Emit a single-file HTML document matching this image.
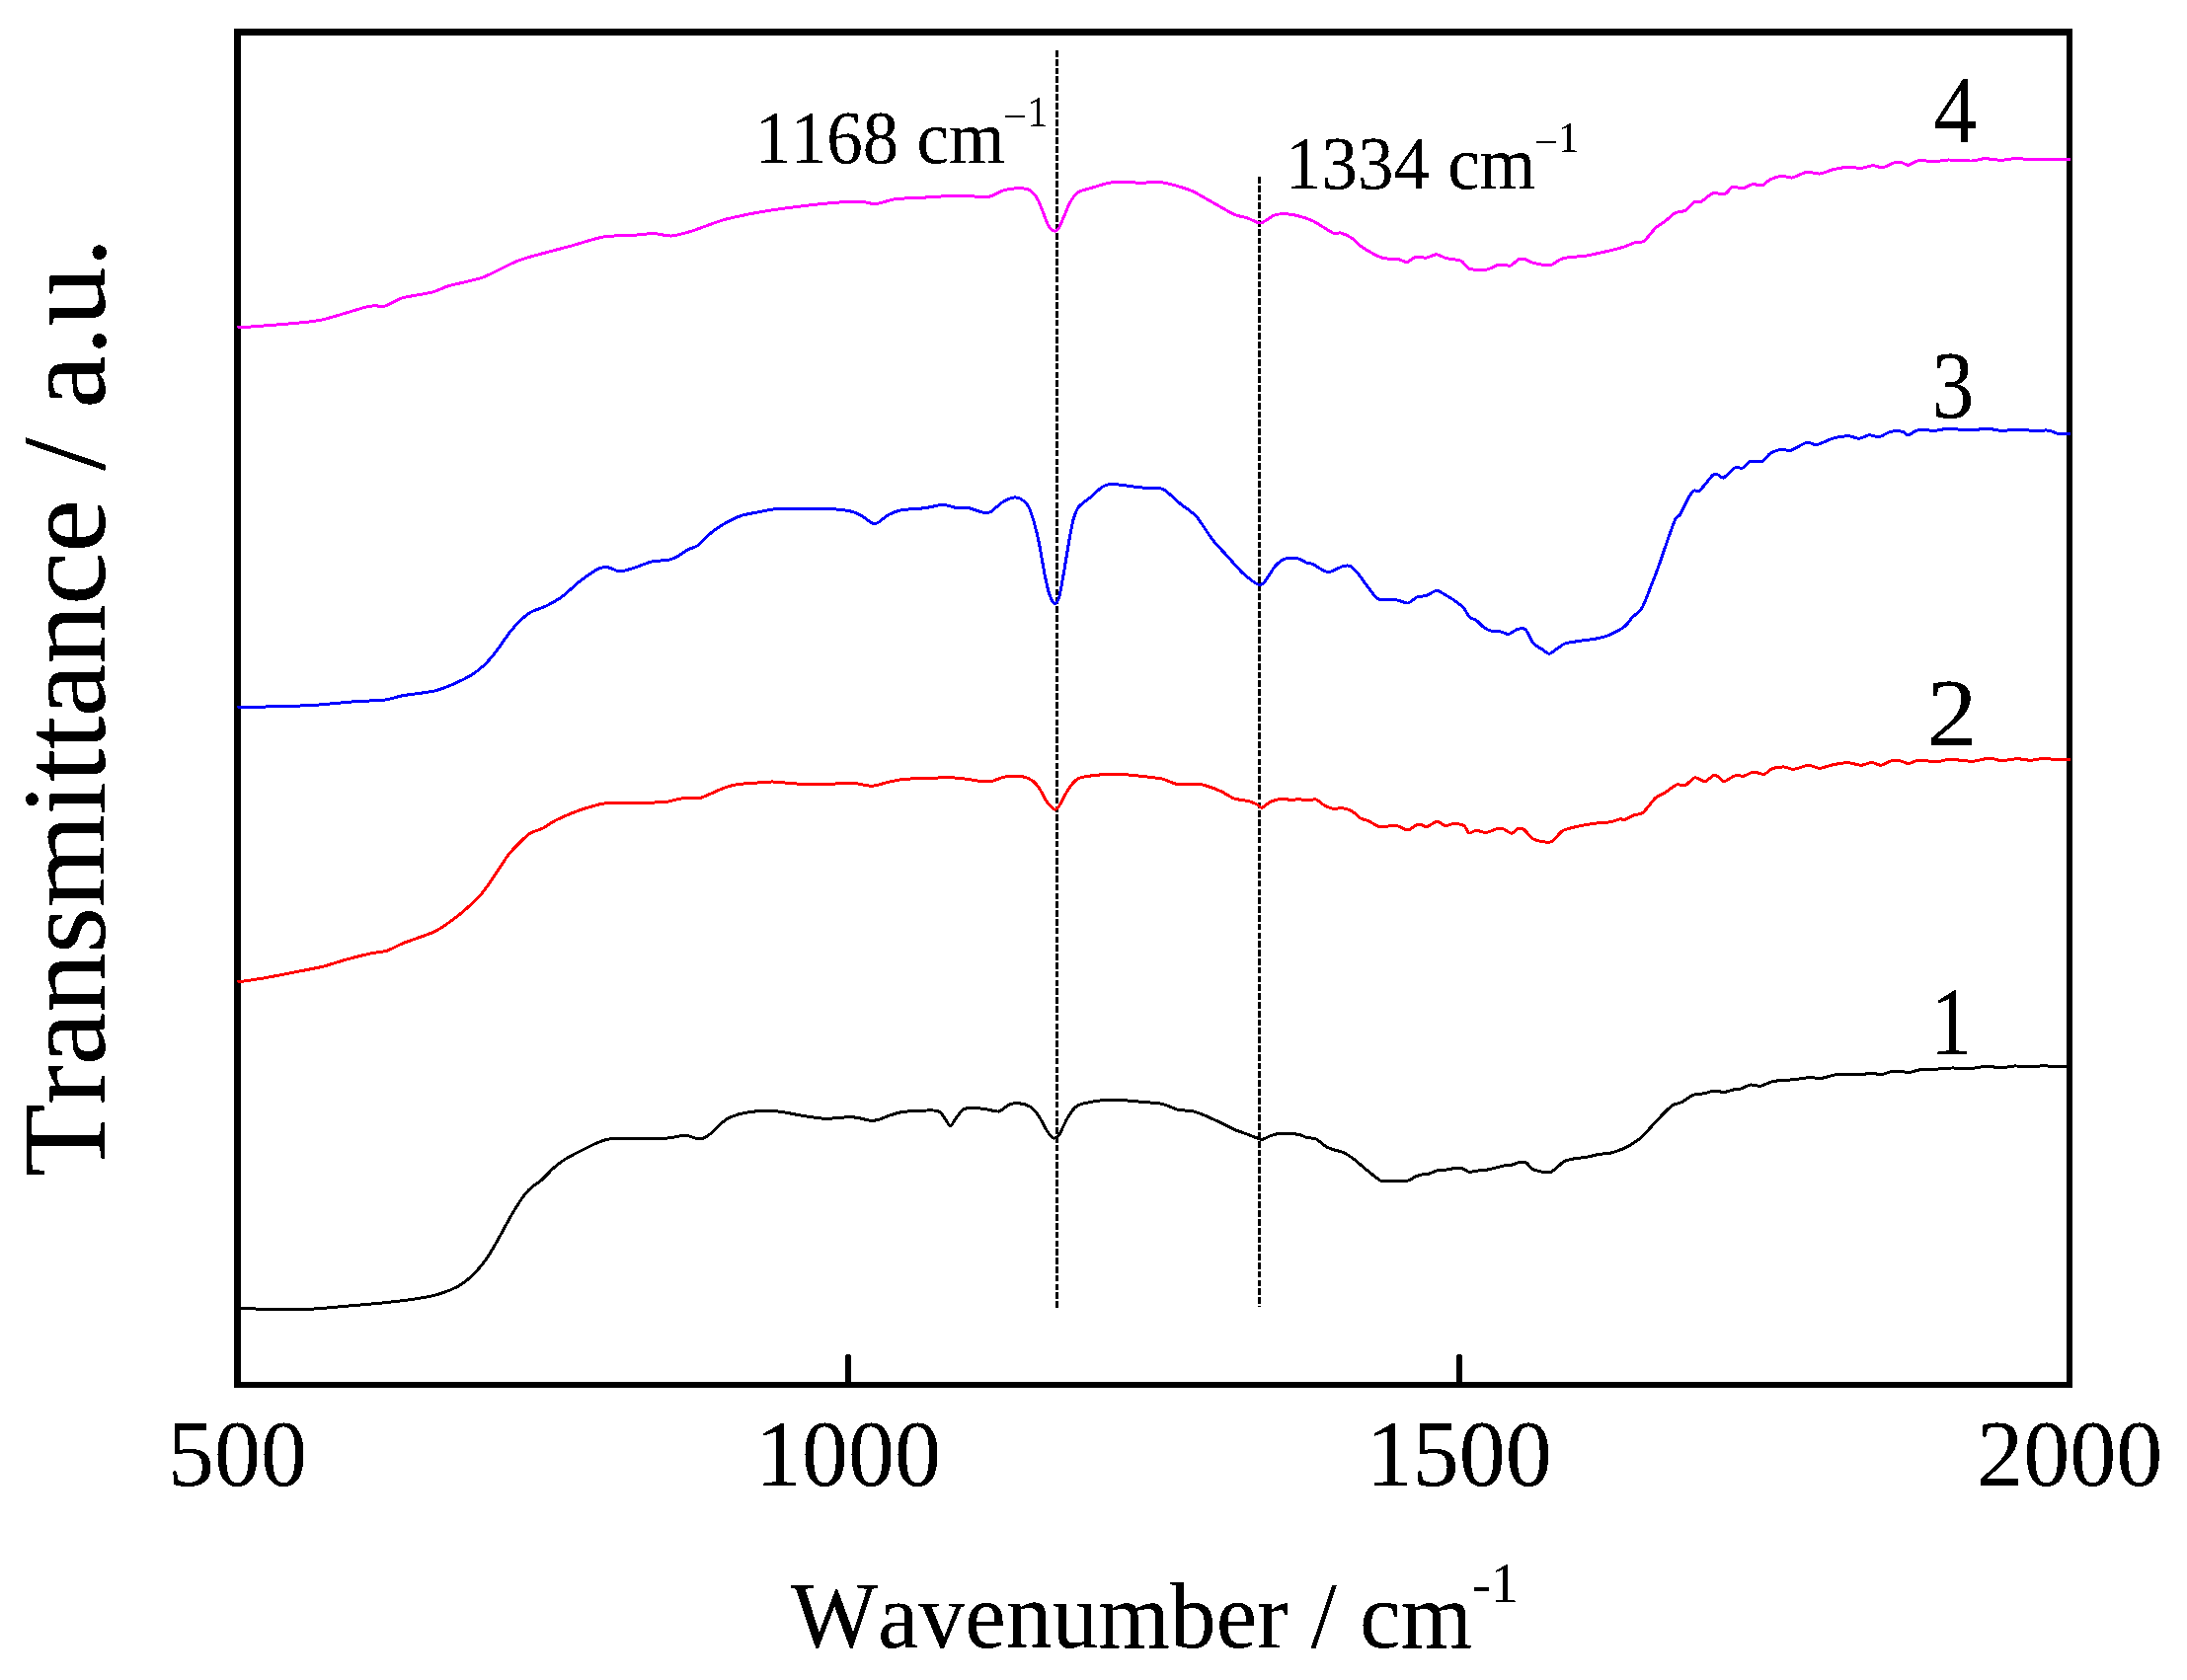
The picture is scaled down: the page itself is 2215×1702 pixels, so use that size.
<!DOCTYPE html>
<html><head><meta charset="utf-8"><title>FTIR spectra</title>
<style>
html,body{margin:0;padding:0;background:#fff;}
svg{display:block;}
text{font-family:"Liberation Serif","Times New Roman",serif;fill:#000;font-kerning:none;}
</style></head>
<body>
<svg width="2215" height="1702" viewBox="0 0 2215 1702" shape-rendering="crispEdges">
<defs><filter id="bw" x="-5%" y="-5%" width="110%" height="110%" color-interpolation-filters="sRGB"><feComponentTransfer><feFuncA type="discrete" tableValues="0 0 1 1 1"/></feComponentTransfer></filter></defs>
<rect x="0" y="0" width="2215" height="1702" fill="#fff"/>
<g fill="#000" shape-rendering="crispEdges">
<rect x="237" y="29" width="1862" height="7"/>
<rect x="237" y="1400" width="1862" height="6"/>
<rect x="237" y="29" width="7" height="1377"/>
<rect x="2093" y="29" width="6" height="1377"/>
</g>
<g stroke="#000" stroke-width="6" stroke-linecap="round">
<line x1="859" y1="1403" x2="859" y2="1375"/>
<line x1="1478" y1="1403" x2="1478" y2="1375"/>
</g>
<g stroke="#000" stroke-width="3" stroke-dasharray="6.7 2.1">
<line x1="1070.5" y1="51" x2="1070.5" y2="1325"/>
<line x1="1275.6" y1="179" x2="1275.6" y2="1323.5"/>
</g>
<g fill="none" stroke-width="3" stroke-linejoin="round" stroke-linecap="butt">
<path stroke="#000000" d="M240.5 1325.0C243.8 1325.2 257.6 1326.1 266.7 1326.3C275.8 1326.5 302.6 1326.7 313.0 1326.3C323.4 1325.9 340.8 1324.1 350.0 1323.3C359.2 1322.5 377.9 1320.9 386.7 1320.0C395.4 1319.1 413.3 1317.0 420.0 1316.0C426.7 1315.0 435.4 1313.5 440.0 1312.3C444.6 1311.1 452.9 1308.3 456.7 1306.7C460.4 1305.1 466.7 1301.7 470.0 1299.3C473.3 1296.9 480.1 1290.3 483.0 1287.3C485.9 1284.3 490.5 1278.6 493.0 1275.0C495.5 1271.4 500.5 1262.7 503.0 1258.3C505.5 1253.9 510.5 1244.5 513.0 1240.0C515.5 1235.5 520.5 1226.7 523.0 1222.7C525.5 1218.7 530.9 1210.9 533.0 1208.3C535.1 1205.7 538.1 1203.2 540.0 1201.7C541.9 1200.2 545.3 1198.4 548.0 1196.0C550.7 1193.6 558.6 1185.0 561.7 1182.3C564.8 1179.5 569.5 1176.2 573.0 1174.0C576.5 1171.8 586.0 1167.0 590.0 1165.0C594.0 1163.0 601.7 1159.1 605.0 1157.7C608.3 1156.3 613.6 1154.5 616.7 1154.0C619.8 1153.5 623.0 1153.4 630.0 1153.3C637.0 1153.2 665.5 1153.6 673.0 1153.3C680.5 1153.0 686.9 1151.0 690.0 1150.7C693.1 1150.4 696.1 1150.7 698.0 1151.0C699.9 1151.3 703.3 1153.0 705.0 1153.3C706.7 1153.6 709.8 1153.9 711.7 1153.3C713.6 1152.7 717.7 1150.2 720.0 1148.3C722.3 1146.4 727.5 1140.4 730.0 1138.3C732.5 1136.2 736.7 1133.1 740.0 1131.7C743.3 1130.3 752.0 1127.8 756.7 1127.0C761.5 1126.2 773.5 1125.3 778.0 1125.3C782.5 1125.3 788.2 1126.0 793.0 1126.7C797.8 1127.4 811.2 1130.2 816.7 1131.0C822.2 1131.8 831.3 1133.2 836.7 1133.3C842.1 1133.4 855.8 1131.8 860.0 1131.7C864.2 1131.6 867.3 1132.2 870.0 1132.7C872.7 1133.2 879.2 1135.1 881.7 1135.3C884.2 1135.5 887.7 1134.9 890.0 1134.3C892.3 1133.7 897.1 1131.4 900.0 1130.4C902.9 1129.5 909.2 1127.3 913.0 1126.7C916.8 1126.1 925.5 1125.5 930.0 1125.3C934.5 1125.1 945.9 1124.7 949.0 1125.3C952.1 1125.9 953.3 1128.1 955.0 1130.0C956.7 1131.9 960.7 1140.3 962.3 1140.7C963.9 1141.1 966.4 1135.3 968.0 1133.3C969.6 1131.2 973.3 1125.6 975.0 1124.3C976.7 1123.0 979.0 1122.8 981.7 1122.7C984.4 1122.6 993.0 1122.9 996.7 1123.3C1000.5 1123.7 1008.6 1126.5 1011.7 1126.0C1014.8 1125.5 1019.2 1120.3 1021.7 1119.3C1024.2 1118.3 1029.0 1117.5 1031.7 1117.7C1034.4 1117.9 1040.5 1119.5 1043.0 1121.0C1045.5 1122.5 1049.6 1127.0 1051.7 1130.0C1053.8 1133.0 1058.4 1142.4 1060.0 1145.0C1061.6 1147.6 1063.4 1150.0 1064.3 1151.0C1065.2 1152.0 1066.7 1153.1 1067.4 1153.2C1068.1 1153.3 1069.5 1152.5 1070.2 1152.0C1070.9 1151.5 1071.6 1151.8 1073.0 1149.3C1074.4 1146.8 1079.6 1135.2 1081.7 1131.7C1083.8 1128.2 1087.7 1122.8 1090.0 1121.0C1092.3 1119.2 1096.2 1118.1 1100.0 1117.3C1103.8 1116.5 1115.9 1114.7 1120.0 1114.3C1124.1 1113.9 1128.9 1114.1 1133.0 1114.3C1137.1 1114.5 1147.5 1115.5 1153.0 1116.0C1158.5 1116.5 1171.7 1117.3 1176.7 1118.3C1181.7 1119.3 1189.1 1123.4 1193.0 1124.3C1196.9 1125.2 1204.4 1124.9 1208.0 1125.7C1211.6 1126.5 1218.1 1129.2 1221.7 1130.7C1225.3 1132.2 1233.2 1136.0 1236.7 1137.7C1240.2 1139.4 1246.7 1142.9 1250.0 1144.3C1253.3 1145.7 1259.5 1147.8 1263.0 1149.0C1266.5 1150.2 1275.0 1154.1 1278.0 1154.3C1281.0 1154.5 1284.4 1151.5 1286.7 1150.7C1289.0 1150.0 1293.2 1148.5 1296.7 1148.3C1300.2 1148.1 1311.7 1148.8 1315.0 1149.3C1318.3 1149.8 1320.8 1151.7 1323.0 1152.3C1325.2 1152.9 1330.5 1152.8 1333.0 1154.0C1335.5 1155.2 1340.7 1160.3 1343.0 1161.7C1345.3 1163.1 1349.6 1164.3 1351.7 1165.0C1353.8 1165.7 1357.7 1166.3 1360.0 1167.3C1362.3 1168.3 1367.5 1171.5 1370.0 1173.3C1372.5 1175.1 1377.5 1179.6 1380.0 1181.7C1382.5 1183.8 1387.8 1188.2 1390.0 1190.0C1392.2 1191.8 1396.4 1195.1 1398.0 1196.0C1399.6 1196.9 1399.6 1197.0 1403.0 1197.0C1406.4 1197.0 1421.2 1196.9 1425.0 1196.3C1428.8 1195.7 1431.1 1193.1 1433.0 1192.3C1434.9 1191.5 1438.3 1190.4 1440.0 1190.0C1441.7 1189.6 1444.8 1189.8 1446.7 1189.3C1448.6 1188.8 1453.0 1186.5 1455.0 1186.0C1457.0 1185.5 1460.5 1185.6 1463.0 1185.3C1465.5 1185.0 1472.7 1183.5 1475.0 1183.3C1477.3 1183.1 1480.1 1183.5 1481.7 1184.0C1483.3 1184.5 1486.1 1187.0 1488.0 1187.3C1489.9 1187.5 1494.4 1186.3 1496.7 1186.0C1499.0 1185.7 1503.4 1185.6 1506.7 1185.0C1510.0 1184.4 1520.1 1181.6 1523.0 1181.0C1525.9 1180.4 1528.1 1180.9 1530.0 1180.5C1531.9 1180.1 1536.1 1178.1 1538.0 1177.8C1539.9 1177.5 1543.6 1176.9 1545.5 1177.8C1547.4 1178.7 1550.2 1183.5 1553.0 1184.8C1555.8 1186.1 1565.2 1188.0 1568.0 1188.0C1570.8 1188.0 1573.1 1185.9 1575.0 1184.6C1576.9 1183.3 1580.9 1178.6 1583.0 1177.3C1585.1 1176.0 1588.7 1174.9 1591.7 1174.3C1594.7 1173.7 1603.2 1172.9 1606.7 1172.3C1610.2 1171.7 1616.9 1169.8 1620.0 1169.3C1623.1 1168.8 1628.6 1168.8 1631.7 1168.0C1634.8 1167.2 1642.1 1164.6 1645.0 1163.3C1647.9 1162.0 1652.8 1159.2 1655.0 1157.7C1657.2 1156.2 1660.9 1153.6 1663.0 1151.7C1665.1 1149.8 1669.6 1144.6 1671.7 1142.3C1673.8 1140.0 1678.0 1135.5 1680.0 1133.3C1682.0 1131.1 1686.1 1126.8 1688.0 1125.0C1689.9 1123.2 1693.1 1120.3 1695.0 1119.3C1696.9 1118.3 1700.5 1118.0 1703.0 1116.7C1705.5 1115.5 1712.0 1110.4 1715.0 1109.3C1718.0 1108.2 1724.2 1108.2 1726.7 1107.7C1729.2 1107.2 1732.5 1105.5 1735.0 1105.3C1737.5 1105.1 1744.0 1106.5 1746.7 1106.3C1749.4 1106.1 1754.7 1104.1 1756.7 1103.7C1758.7 1103.3 1761.0 1103.6 1763.0 1103.0C1765.0 1102.4 1770.5 1099.3 1773.0 1099.0C1775.5 1098.7 1780.5 1100.6 1783.0 1100.3C1785.5 1100.0 1790.7 1097.0 1793.0 1096.3C1795.3 1095.6 1798.7 1095.0 1801.7 1094.7C1804.7 1094.4 1813.0 1094.1 1816.7 1093.7C1820.5 1093.3 1828.2 1091.9 1831.7 1091.7C1835.2 1091.5 1841.7 1092.6 1845.0 1092.3C1848.3 1092.0 1854.7 1089.5 1858.0 1089.0C1861.3 1088.5 1868.6 1088.0 1871.7 1088.0C1874.8 1088.0 1879.9 1088.8 1883.0 1088.7C1886.1 1088.6 1894.0 1087.3 1896.7 1087.3C1899.5 1087.3 1902.5 1089.0 1905.0 1088.7C1907.5 1088.5 1914.0 1085.7 1916.7 1085.3C1919.4 1084.9 1924.7 1085.1 1926.7 1085.3C1928.7 1085.5 1930.4 1086.9 1932.7 1086.7C1935.0 1086.5 1941.2 1084.2 1945.0 1083.7C1948.8 1083.2 1959.0 1083.2 1963.0 1083.0C1967.0 1082.8 1972.3 1082.1 1976.7 1082.0C1981.1 1081.9 1993.5 1082.5 1998.0 1082.3C2002.5 1082.0 2009.5 1080.0 2013.0 1080.0C2016.5 1080.0 2022.6 1082.0 2026.0 1082.0C2029.4 1082.0 2036.2 1080.2 2040.0 1080.0C2043.8 1079.8 2052.9 1080.7 2056.7 1080.7C2060.4 1080.7 2067.1 1079.7 2070.0 1079.7C2072.9 1079.7 2076.6 1080.5 2080.0 1080.6C2083.4 1080.7 2094.9 1080.5 2097.0 1080.5"/>
<path stroke="#ff0000" d="M240.5 995.0C243.8 994.5 259.7 992.2 266.7 991.0C273.7 989.8 289.2 986.8 296.7 985.3C304.2 983.8 320.0 980.9 326.7 979.3C333.4 977.7 343.8 974.0 350.0 972.3C356.2 970.6 371.5 966.8 376.7 965.7C381.9 964.6 387.8 964.5 391.7 963.3C395.6 962.0 402.8 957.8 408.0 955.7C413.2 953.6 428.6 948.4 433.0 946.7C437.4 945.0 439.6 944.3 443.0 942.3C446.4 940.3 456.2 933.5 460.0 930.7C463.8 927.9 469.7 923.0 473.0 920.0C476.3 917.0 483.7 910.0 486.7 906.7C489.7 903.4 494.2 896.8 496.7 893.3C499.2 889.8 504.4 881.8 506.7 878.3C509.0 874.8 512.7 868.6 515.0 865.7C517.3 862.8 522.3 857.7 525.0 855.0C527.7 852.3 533.6 846.3 536.7 844.3C539.8 842.3 546.7 840.7 550.0 839.0C553.3 837.3 558.9 833.1 563.0 831.0C567.1 828.9 578.0 824.2 583.0 822.3C588.0 820.4 599.0 817.1 603.0 816.0C607.0 814.9 608.3 814.0 615.0 813.7C621.7 813.4 649.0 813.5 656.7 813.3C664.4 813.1 672.5 812.5 676.7 812.0C680.9 811.5 686.1 809.4 690.0 809.0C693.9 808.6 704.2 809.3 708.0 808.7C711.8 808.1 716.9 805.3 720.0 804.0C723.1 802.7 729.7 799.5 733.0 798.3C736.3 797.1 742.5 795.4 746.7 794.7C750.9 794.0 762.2 793.3 766.7 793.0C771.2 792.7 778.5 791.9 783.0 792.0C787.5 792.1 797.5 793.3 803.0 793.7C808.5 794.1 819.2 795.0 826.7 795.0C834.2 795.0 856.0 793.1 863.0 793.3C870.0 793.5 878.4 796.4 883.0 796.3C887.6 796.2 895.8 793.1 900.0 792.2C904.2 791.3 910.9 789.8 916.7 789.3C922.5 788.8 941.7 788.5 946.7 788.3C951.7 788.0 953.0 787.2 956.7 787.3C960.5 787.4 971.9 788.5 976.7 789.0C981.5 789.5 991.5 791.4 995.0 791.7C998.5 792.0 1002.5 791.8 1005.0 791.3C1007.5 790.8 1012.3 788.4 1015.0 787.7C1017.7 787.0 1023.8 786.0 1026.7 786.0C1029.6 786.0 1035.5 786.6 1038.0 787.3C1040.5 788.0 1044.8 790.2 1046.7 791.7C1048.6 793.2 1051.3 796.8 1053.0 799.3C1054.7 801.8 1058.1 809.1 1060.0 811.7C1061.9 814.3 1066.4 819.5 1068.0 820.0C1069.6 820.5 1071.3 818.5 1073.0 816.0C1074.7 813.5 1079.6 803.2 1081.7 800.0C1083.8 796.8 1088.1 791.6 1090.0 790.0C1091.9 788.4 1093.4 788.0 1096.7 787.3C1100.0 786.6 1112.2 785.1 1116.7 784.7C1121.2 784.3 1128.5 784.1 1133.0 784.3C1137.5 784.5 1147.5 785.4 1153.0 786.0C1158.5 786.6 1171.9 788.0 1176.7 789.0C1181.5 790.0 1187.2 793.6 1191.7 794.3C1196.2 795.0 1209.2 794.1 1213.0 794.3C1216.8 794.5 1218.7 795.1 1221.7 796.0C1224.7 796.9 1233.2 800.1 1236.7 801.7C1240.2 803.3 1246.5 807.8 1250.0 809.0C1253.5 810.2 1262.1 811.0 1265.0 811.7C1267.9 812.5 1271.4 814.2 1273.0 815.0C1274.6 815.8 1276.3 818.6 1278.0 818.3C1279.7 818.0 1284.0 813.5 1286.7 812.3C1289.5 811.1 1297.5 809.2 1300.0 809.0C1302.5 808.8 1304.8 810.6 1306.7 810.7C1308.6 810.8 1313.0 809.7 1315.0 809.7C1317.0 809.7 1320.8 810.7 1323.0 810.7C1325.2 810.7 1330.9 809.5 1333.0 810.0C1335.1 810.5 1337.9 813.8 1340.0 815.0C1342.1 816.2 1347.5 818.8 1350.0 819.3C1352.5 819.8 1357.5 818.3 1360.0 818.7C1362.5 819.1 1367.8 821.0 1370.0 822.3C1372.2 823.6 1375.9 827.8 1378.0 829.0C1380.1 830.2 1384.4 831.0 1386.7 832.0C1389.0 833.0 1393.2 836.7 1396.7 837.3C1400.2 837.9 1411.4 836.2 1415.0 836.7C1418.6 837.2 1423.2 841.1 1425.7 841.0C1428.2 840.9 1433.2 836.4 1435.0 835.7C1436.8 835.0 1438.8 835.5 1440.0 835.7C1441.2 836.0 1443.0 838.1 1445.0 837.7C1447.0 837.3 1453.3 832.4 1455.7 832.3C1458.1 832.2 1461.8 836.5 1464.0 836.7C1466.2 837.0 1470.6 834.3 1473.0 834.3C1475.4 834.3 1481.2 835.5 1483.0 836.7C1484.8 837.9 1486.2 843.4 1487.7 844.0C1489.2 844.6 1492.8 841.4 1495.0 841.3C1497.2 841.2 1502.3 843.7 1505.0 843.5C1507.7 843.3 1514.5 839.9 1516.7 839.5C1519.0 839.1 1521.2 839.4 1523.0 840.0C1524.8 840.6 1529.3 844.3 1531.0 844.3C1532.7 844.3 1535.2 840.3 1536.7 839.8C1538.2 839.3 1541.0 838.7 1543.0 840.0C1545.0 841.3 1549.9 848.3 1553.0 850.0C1556.1 851.7 1565.5 853.1 1568.0 853.3C1570.5 853.5 1571.1 853.2 1573.0 851.7C1574.9 850.2 1579.6 843.4 1583.0 841.5C1586.4 839.6 1595.8 837.7 1600.0 836.8C1604.2 835.9 1612.7 834.5 1616.7 834.0C1620.7 833.5 1628.8 833.2 1631.7 832.7C1634.6 832.2 1638.1 830.3 1640.0 830.0C1641.9 829.7 1644.8 830.5 1646.7 830.0C1648.6 829.5 1652.8 826.5 1655.0 825.7C1657.2 824.9 1661.3 825.5 1664.0 823.3C1666.7 821.1 1673.9 810.9 1676.7 808.3C1679.5 805.7 1684.0 804.4 1686.7 802.7C1689.4 801.0 1695.5 795.9 1698.0 795.0C1700.5 794.1 1704.4 796.6 1706.7 795.7C1709.0 794.8 1714.2 788.2 1716.7 787.7C1719.2 787.2 1724.2 792.0 1726.7 791.7C1729.2 791.4 1734.6 785.0 1737.0 785.0C1739.4 785.0 1743.5 791.6 1746.0 791.7C1748.5 791.8 1754.1 786.7 1756.7 786.0C1759.3 785.3 1764.3 786.5 1766.7 786.0C1769.1 785.5 1773.5 782.2 1776.0 782.0C1778.5 781.8 1784.3 784.7 1786.7 784.3C1789.1 783.9 1792.5 779.6 1795.0 778.7C1797.5 777.8 1804.0 776.9 1806.7 777.0C1809.4 777.1 1813.6 779.5 1816.7 779.3C1819.8 779.1 1828.4 775.4 1831.7 775.3C1835.0 775.2 1839.9 778.4 1843.0 778.3C1846.1 778.2 1853.1 775.4 1856.7 774.7C1860.3 774.0 1868.2 772.6 1871.7 772.7C1875.2 772.8 1882.0 775.3 1885.0 775.3C1888.0 775.2 1893.2 772.3 1895.7 772.3C1898.2 772.3 1902.6 775.5 1905.0 775.3C1907.4 775.1 1912.5 771.5 1915.0 771.0C1917.5 770.5 1922.8 770.7 1925.0 771.0C1927.2 771.3 1930.8 773.8 1933.0 773.7C1935.2 773.6 1939.4 770.5 1943.0 770.3C1946.6 770.0 1957.7 771.8 1961.7 771.7C1965.7 771.6 1970.5 769.3 1975.0 769.3C1979.5 769.2 1993.0 771.5 1998.0 771.3C2003.0 771.1 2011.4 768.1 2015.0 768.0C2018.6 767.9 2023.2 770.6 2026.7 770.7C2030.2 770.8 2039.2 768.8 2043.0 768.7C2046.8 768.7 2053.3 770.3 2056.7 770.3C2060.1 770.2 2066.8 768.4 2070.0 768.3C2073.2 768.2 2078.6 769.5 2082.0 769.6C2085.4 769.8 2095.1 769.5 2097.0 769.5"/>
<path stroke="#0000ff" d="M240.5 716.7C247.5 716.5 286.4 715.6 296.7 715.3C307.0 715.0 315.1 714.6 323.0 714.0C330.9 713.4 351.6 711.3 360.0 710.7C368.4 710.1 384.0 709.8 390.0 709.0C396.0 708.2 401.8 705.8 408.0 704.7C414.2 703.6 433.5 701.5 440.0 700.0C446.5 698.5 455.4 694.7 460.0 692.7C464.6 690.7 472.9 686.6 476.7 684.3C480.4 682.0 486.7 677.4 490.0 674.3C493.3 671.2 499.7 663.6 503.0 659.3C506.3 655.0 513.6 644.0 516.7 640.0C519.8 636.0 525.3 630.2 528.0 627.7C530.7 625.2 534.9 621.7 538.0 620.0C541.1 618.3 549.0 616.0 553.0 614.0C557.0 612.0 565.8 607.1 570.0 604.0C574.2 600.9 582.3 592.7 586.7 589.3C591.1 585.9 601.9 578.5 605.0 576.7C608.1 574.9 610.1 574.9 611.7 574.7C613.3 574.5 616.0 574.8 618.0 575.3C620.0 575.8 624.9 579.0 628.0 579.0C631.1 579.0 639.0 576.2 643.0 575.0C647.0 573.8 655.8 570.0 660.0 569.0C664.2 568.0 673.6 567.9 676.7 567.3C679.8 566.7 682.5 565.6 685.0 564.3C687.5 563.0 694.0 558.2 696.7 556.7C699.4 555.2 703.8 554.8 706.7 552.7C709.6 550.6 716.7 542.7 720.0 540.0C723.3 537.3 729.2 533.2 733.0 531.0C736.8 528.8 745.8 524.2 750.0 522.7C754.2 521.2 762.1 519.9 766.7 519.0C771.3 518.1 782.5 515.9 786.7 515.5C790.9 515.1 792.5 515.4 800.0 515.5C807.5 515.6 838.8 515.6 846.7 516.0C854.6 516.4 859.7 517.5 863.0 518.3C866.3 519.1 870.4 521.2 873.0 522.7C875.6 524.2 881.9 529.7 884.0 530.5C886.1 531.3 888.0 530.1 890.0 529.0C892.0 527.9 897.1 523.0 900.0 521.5C902.9 520.0 908.4 517.6 913.0 516.7C917.6 515.9 931.5 515.4 936.7 514.7C942.0 514.0 951.1 511.4 955.0 511.4C958.9 511.3 964.9 513.9 968.0 514.3C971.1 514.7 976.6 513.7 980.0 514.3C983.4 514.9 992.1 518.5 995.0 519.0C997.9 519.5 1000.5 520.0 1003.0 518.7C1005.5 517.5 1012.2 510.8 1015.0 509.0C1017.8 507.2 1022.8 504.8 1025.0 504.3C1027.2 503.8 1030.9 503.9 1033.0 505.0C1035.1 506.1 1039.8 510.0 1041.7 513.3C1043.6 516.6 1046.6 526.7 1048.0 531.7C1049.4 536.7 1051.8 547.0 1053.0 553.3C1054.2 559.5 1056.8 575.7 1058.0 581.7C1059.2 587.8 1061.5 598.0 1062.7 601.7C1064.0 605.5 1066.8 611.3 1068.0 611.7C1069.2 612.1 1071.5 609.4 1072.7 605.0C1074.0 600.6 1076.8 583.8 1078.0 576.7C1079.2 569.6 1081.6 554.5 1082.7 548.3C1083.8 542.0 1085.8 531.1 1087.0 526.7C1088.2 522.3 1090.7 516.0 1092.7 513.3C1094.7 510.6 1100.2 507.4 1103.0 505.0C1105.8 502.6 1112.7 496.1 1115.0 494.3C1117.3 492.6 1119.5 491.4 1121.7 491.0C1124.0 490.6 1128.6 490.6 1133.0 491.0C1137.4 491.4 1151.7 493.6 1156.7 494.0C1161.7 494.4 1170.1 494.0 1173.0 494.3C1175.9 494.6 1177.2 494.7 1180.0 496.7C1182.8 498.7 1191.0 506.7 1195.0 510.0C1199.0 513.3 1207.6 518.7 1211.7 523.3C1215.8 527.9 1224.1 541.7 1228.0 546.7C1231.9 551.7 1239.2 559.1 1243.0 563.3C1246.8 567.5 1254.9 576.9 1258.0 580.0C1261.1 583.1 1265.8 586.7 1268.0 588.3C1270.2 589.9 1274.3 592.7 1276.0 592.7C1277.7 592.7 1279.7 590.7 1281.7 588.3C1283.7 585.9 1289.2 576.1 1291.7 573.3C1294.2 570.5 1298.8 566.9 1301.7 566.0C1304.6 565.1 1312.3 565.5 1315.0 566.0C1317.7 566.5 1321.1 569.3 1323.0 570.0C1324.9 570.7 1327.7 570.6 1330.0 571.7C1332.3 572.8 1339.5 577.8 1341.7 578.7C1344.0 579.6 1345.7 579.6 1348.0 579.0C1350.3 578.4 1357.5 574.4 1360.0 573.7C1362.5 573.0 1365.9 572.6 1368.0 573.7C1370.1 574.8 1374.2 579.6 1376.7 582.7C1379.2 585.8 1385.5 595.2 1388.0 598.3C1390.5 601.4 1393.3 606.1 1396.7 607.3C1400.1 608.5 1411.3 607.5 1415.0 608.0C1418.7 608.5 1423.5 611.4 1426.0 611.0C1428.5 610.6 1432.6 606.0 1435.0 605.0C1437.4 604.0 1442.5 604.1 1445.0 603.3C1447.5 602.5 1452.8 598.4 1455.0 598.3C1457.2 598.2 1460.8 601.0 1463.0 602.3C1465.2 603.5 1470.5 606.5 1473.0 608.3C1475.5 610.1 1481.1 614.6 1483.0 616.7C1484.9 618.8 1486.5 623.5 1488.0 625.0C1489.5 626.5 1493.1 627.0 1495.0 628.3C1496.9 629.6 1501.1 634.4 1503.0 635.7C1504.9 637.0 1507.9 638.5 1510.0 639.0C1512.1 639.5 1517.8 639.6 1520.0 640.0C1522.2 640.4 1525.9 642.8 1528.0 642.5C1530.1 642.2 1534.6 638.1 1536.7 637.5C1538.8 636.9 1543.0 635.9 1545.0 637.7C1547.0 639.5 1550.9 649.2 1553.0 651.7C1555.1 654.2 1559.7 656.4 1561.7 657.7C1563.7 659.0 1567.1 662.2 1569.0 662.2C1570.9 662.2 1574.7 658.8 1576.7 657.5C1578.7 656.2 1582.1 653.0 1585.0 652.0C1587.9 651.0 1596.2 649.9 1600.0 649.3C1603.8 648.7 1611.5 648.0 1615.0 647.3C1618.5 646.6 1624.2 645.5 1628.0 644.0C1631.8 642.5 1641.9 637.3 1645.0 635.0C1648.1 632.7 1650.8 628.1 1653.0 625.7C1655.2 623.3 1660.7 619.8 1663.0 616.0C1665.3 612.2 1669.6 600.3 1671.7 595.0C1673.8 589.7 1678.0 578.9 1680.0 573.3C1682.0 567.7 1685.9 555.9 1688.0 550.0C1690.1 544.1 1695.0 529.8 1696.7 526.2C1698.4 522.6 1699.8 524.3 1701.7 521.2C1703.6 518.1 1709.9 504.6 1711.7 501.6C1713.5 498.6 1714.8 497.6 1716.0 497.0C1717.2 496.4 1719.3 498.7 1721.7 496.7C1724.1 494.7 1732.7 483.0 1735.0 481.0C1737.3 479.0 1738.7 480.6 1740.0 481.0C1741.3 481.4 1743.6 484.9 1745.7 484.0C1747.8 483.1 1754.3 475.2 1756.7 474.0C1759.1 472.8 1763.0 474.8 1765.0 474.0C1767.0 473.2 1770.5 468.1 1773.0 467.3C1775.5 466.5 1782.5 468.3 1785.0 467.3C1787.5 466.3 1790.5 460.8 1793.0 459.3C1795.5 457.8 1802.5 455.3 1805.0 455.0C1807.5 454.7 1809.9 457.5 1813.0 456.7C1816.1 455.9 1826.6 449.1 1830.0 448.3C1833.4 447.6 1836.7 451.2 1840.0 450.7C1843.3 450.2 1852.7 445.1 1856.7 444.0C1860.7 442.9 1868.4 441.7 1871.7 441.7C1875.0 441.7 1880.3 444.4 1883.0 444.3C1885.7 444.2 1890.5 440.9 1893.0 440.7C1895.5 440.5 1900.2 443.1 1903.0 442.7C1905.8 442.3 1912.0 438.0 1915.0 437.3C1918.0 436.6 1924.5 436.9 1926.7 437.3C1928.9 437.7 1930.7 440.9 1932.7 440.7C1934.7 440.5 1939.6 436.2 1943.0 435.7C1946.4 435.1 1956.2 436.5 1960.0 436.3C1963.8 436.1 1968.4 434.3 1973.0 434.3C1977.6 434.3 1991.9 436.0 1996.7 436.0C2001.5 436.0 2008.0 434.0 2011.7 434.0C2015.5 434.0 2022.3 436.2 2026.7 436.3C2031.1 436.4 2042.8 435.0 2046.7 435.0C2050.6 435.0 2054.7 436.2 2058.0 436.3C2061.3 436.4 2070.4 435.9 2073.0 436.0C2075.6 436.1 2077.6 436.9 2079.0 437.3C2080.4 437.7 2081.8 439.0 2084.0 439.3C2086.2 439.6 2095.4 439.4 2097.0 439.4"/>
<path stroke="#ff00ff" d="M240.5 332.0C246.9 331.5 281.3 329.0 292.0 328.0C302.7 327.0 315.9 326.2 326.0 324.0C336.1 321.8 365.0 312.2 373.0 310.5C381.0 308.8 385.8 311.1 390.0 310.0C394.2 308.9 401.0 303.8 407.0 302.0C413.0 300.2 432.0 297.6 438.0 296.0C444.0 294.4 448.6 291.4 455.0 289.5C461.4 287.6 480.6 284.1 489.0 281.0C497.4 277.9 515.8 267.8 522.5 265.0C529.2 262.2 536.2 260.4 543.0 258.5C549.8 256.6 568.5 251.8 577.0 249.5C585.5 247.2 602.5 241.4 611.0 240.0C619.5 238.6 638.6 238.4 645.0 238.0C651.4 237.6 657.6 236.4 662.0 236.5C666.4 236.6 675.2 239.3 680.0 239.0C684.8 238.7 695.4 235.6 700.0 234.3C704.6 233.0 712.6 229.8 716.7 228.3C720.8 226.9 728.0 224.1 733.0 222.7C738.0 221.3 750.5 218.6 756.7 217.3C763.0 216.1 775.5 213.8 783.0 212.7C790.5 211.6 808.3 209.3 816.7 208.3C825.1 207.3 843.0 205.5 850.0 205.0C857.0 204.5 868.4 204.1 873.0 204.3C877.6 204.5 882.5 207.0 886.7 206.7C890.9 206.4 900.9 202.5 906.7 201.7C912.5 200.9 926.3 200.7 933.0 200.3C939.7 199.9 953.3 198.9 960.0 198.7C966.7 198.5 981.5 198.9 986.7 199.0C991.9 199.1 998.0 200.1 1001.7 199.3C1005.5 198.5 1013.0 193.8 1016.7 192.7C1020.5 191.6 1028.4 190.7 1031.7 190.7C1035.0 190.7 1040.5 191.1 1043.0 192.7C1045.5 194.3 1049.4 198.9 1051.7 203.3C1054.0 207.8 1059.6 224.5 1061.7 228.3C1063.8 232.1 1066.9 233.8 1068.3 234.0C1069.7 234.2 1071.2 233.4 1073.0 230.0C1074.8 226.6 1080.7 211.1 1083.0 206.7C1085.3 202.3 1088.7 197.1 1091.7 195.0C1094.7 192.9 1102.8 191.2 1106.7 190.0C1110.6 188.8 1119.2 186.0 1123.0 185.3C1126.8 184.6 1132.5 184.3 1136.7 184.3C1140.9 184.3 1152.5 185.3 1156.7 185.3C1160.9 185.3 1166.7 184.2 1170.0 184.3C1173.3 184.4 1178.4 184.9 1183.0 186.0C1187.6 187.1 1201.2 191.0 1206.7 193.3C1212.2 195.6 1221.3 201.3 1226.7 204.3C1232.1 207.3 1245.5 215.2 1250.0 217.3C1254.5 219.4 1259.7 219.6 1263.0 220.7C1266.3 221.8 1273.3 226.3 1276.7 226.0C1280.1 225.7 1287.1 219.5 1290.0 218.3C1292.9 217.1 1297.1 216.7 1300.0 216.7C1302.9 216.7 1309.2 217.4 1313.0 218.3C1316.8 219.2 1325.4 221.8 1330.0 224.0C1334.6 226.2 1346.5 234.5 1350.0 236.0C1353.5 237.5 1355.5 235.3 1358.0 236.0C1360.5 236.7 1367.2 239.9 1370.0 241.7C1372.8 243.5 1376.2 248.3 1380.0 250.7C1383.8 253.1 1395.4 259.7 1400.0 261.2C1404.6 262.7 1413.6 262.1 1416.7 262.7C1419.8 263.3 1423.0 265.9 1425.0 265.7C1427.0 265.4 1430.5 261.3 1433.0 260.7C1435.5 260.1 1442.2 261.4 1445.0 261.0C1447.8 260.6 1452.5 257.6 1455.0 257.7C1457.5 257.8 1461.9 260.9 1465.0 261.7C1468.1 262.5 1477.1 263.0 1480.0 264.3C1482.9 265.6 1484.9 271.2 1488.0 272.3C1491.1 273.4 1501.2 273.8 1505.0 273.3C1508.8 272.8 1514.9 268.8 1518.0 268.3C1521.1 267.8 1527.5 269.7 1530.0 269.0C1532.5 268.3 1536.1 263.5 1538.0 262.7C1539.9 261.9 1543.3 262.3 1545.0 262.7C1546.7 263.1 1548.6 265.2 1551.7 266.0C1554.8 266.8 1566.1 269.2 1570.0 268.7C1573.9 268.2 1578.4 262.9 1583.0 261.7C1587.6 260.5 1600.8 260.0 1606.7 259.0C1612.6 258.0 1625.2 255.1 1630.0 254.0C1634.8 252.9 1641.9 251.0 1645.0 250.0C1648.1 249.0 1652.5 246.7 1655.0 246.0C1657.5 245.3 1662.3 246.2 1665.0 244.3C1667.7 242.4 1674.0 233.5 1676.7 231.0C1679.4 228.5 1684.2 225.9 1686.7 224.0C1689.2 222.1 1694.2 217.0 1696.7 215.7C1699.2 214.4 1704.2 214.7 1706.7 213.3C1709.2 211.9 1714.7 205.4 1716.7 204.3C1718.7 203.2 1720.7 205.4 1723.0 204.3C1725.3 203.2 1732.0 196.6 1735.0 195.7C1738.0 194.8 1744.2 197.5 1746.7 196.7C1749.2 195.9 1752.7 190.0 1755.0 189.3C1757.3 188.6 1762.5 191.3 1765.0 191.0C1767.5 190.7 1772.5 187.1 1775.0 186.7C1777.5 186.3 1782.8 188.3 1785.0 187.7C1787.2 187.1 1790.5 182.9 1793.0 181.7C1795.5 180.5 1802.2 178.5 1805.0 178.3C1807.8 178.1 1811.9 180.5 1815.0 180.0C1818.1 179.5 1826.5 174.8 1830.0 174.3C1833.5 173.8 1839.7 176.3 1843.0 176.0C1846.3 175.7 1853.1 172.5 1856.7 171.7C1860.3 170.9 1868.2 169.5 1871.7 169.3C1875.2 169.1 1881.9 170.5 1885.0 170.3C1888.1 170.1 1894.0 167.8 1896.7 167.7C1899.4 167.6 1904.0 170.0 1906.7 169.7C1909.4 169.4 1915.5 165.6 1918.0 165.0C1920.5 164.4 1924.8 164.7 1926.7 165.0C1928.6 165.3 1931.0 167.6 1933.0 167.3C1935.0 167.0 1939.6 163.1 1943.0 162.7C1946.4 162.2 1956.2 163.8 1960.0 163.7C1963.8 163.6 1968.4 162.1 1973.0 162.0C1977.6 161.9 1992.1 163.2 1996.7 163.0C2001.3 162.8 2006.2 160.8 2010.0 160.7C2013.8 160.6 2023.0 162.3 2026.7 162.3C2030.5 162.3 2036.2 160.8 2040.0 160.7C2043.8 160.6 2052.3 161.3 2056.7 161.3C2061.1 161.3 2070.0 161.0 2075.0 161.0C2080.0 161.0 2094.2 161.0 2097.0 161.0"/>
</g>
<text filter="url(#bw)" transform="translate(240.50 1505.20) scale(1.0000 1.0120)" font-size="94" text-anchor="middle">500</text>
<text filter="url(#bw)" transform="translate(859.00 1505.20) scale(1.0000 1.0120)" font-size="94" text-anchor="middle">1000</text>
<text filter="url(#bw)" transform="translate(1477.80 1505.20) scale(1.0000 1.0120)" font-size="94" text-anchor="middle">1500</text>
<text filter="url(#bw)" transform="translate(2096.20 1505.20) scale(1.0000 1.0120)" font-size="94" text-anchor="middle">2000</text>
<text filter="url(#bw)" transform="translate(1958.30 143.80) scale(0.9383 1.0309)" font-size="94">4</text>
<text filter="url(#bw)" transform="translate(1956.60 423.30) scale(0.9096 1.0383)" font-size="94">3</text>
<text filter="url(#bw)" transform="translate(1951.50 755.10) scale(1.0883 1.0319)" font-size="94">2</text>
<text filter="url(#bw)" transform="translate(1954.90 1067.90) scale(0.9043 1.0330)" font-size="94">1</text>
<text filter="url(#bw)" transform="translate(764.40 164.80) scale(0.9860 1.0420)" font-size="74">1168 cm<tspan font-size="43.5" dx="-1.5" dy="-30.6">−</tspan><tspan font-size="43.5" dy="-4.7">1</tspan></text>
<text filter="url(#bw)" transform="translate(1302.00 190.90) scale(0.9860 1.0420)" font-size="74">1334 cm<tspan font-size="43.5" dx="-1.5" dy="-30.6">−</tspan><tspan font-size="43.5" dy="-4.7">1</tspan></text>
<text filter="url(#bw)" transform="translate(800.80 1668.55) scale(0.9947 1.0195)" font-size="94">Wavenumber / cm<tspan font-size="56" x="694.3" dy="-44.87">-1</tspan></text>
<text filter="url(#bw)" transform="translate(105.7 1192.5) rotate(-90)" font-size="121" textLength="952" lengthAdjust="spacing">Transmittance / a.u.</text>
</svg>
</body></html>
